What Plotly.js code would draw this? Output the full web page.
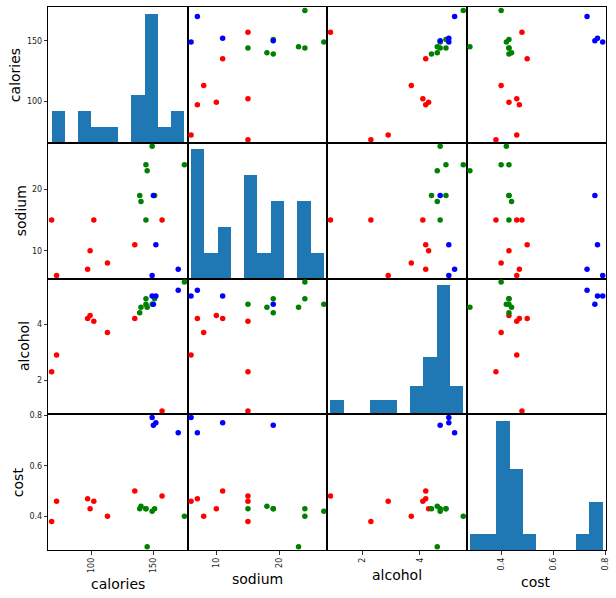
<!DOCTYPE html>
<html><head><meta charset="utf-8">
<script src="https://cdn.plot.ly/plotly-3.0.1.min.js"></script>
<style>html,body{margin:0;padding:0;background:#fff}</style>
</head><body><div id="chart" style="width:616px;height:598px"></div>
<script>
// ---- data ----
const beers = ['Budweiser','Schlitz','Lowenbrau','Kronenbourg','Heineken','Old_Milwaukee','Augsberger',
  'Srohs_Bohemian_Style','Miller_Lite','Budweiser_Light','Coors','Coors_Light','Michelob_Light','Becks',
  'Kirin','Pabst_Extra_Light','Hamms','Heilemans_Old_Style','Olympia_Goled_Light','Schlitz_Light'];
const calories = [144,151,157,170,152,145,175,149,99,113,140,102,135,150,149,68,139,144,72,97];
const sodium   = [15,19,15,7,11,23,24,27,10,8,18,15,11,19,6,15,19,24,6,7];
const alcohol  = [4.7,4.9,0.9,5.2,5.0,4.6,5.5,4.7,4.3,3.7,4.6,4.1,4.2,4.7,5.0,2.3,4.4,4.9,2.9,4.2];
const cost     = [0.43,0.43,0.48,0.73,0.77,0.28,0.40,0.42,0.43,0.40,0.44,0.46,0.50,0.76,0.79,0.38,0.43,0.43,0.46,0.47];
const cluster  = [1,1,0,2,2,1,1,1,0,0,1,0,0,2,2,0,1,1,0,0];
const columns  = ['calories','sodium','alcohol','cost'];

// ---- style ----
const clusterColors = ['red','green','blue'];
const histColor = '#1f77b4';
const tickSteps = [50,10,2,0.2];
const W = 616, H = 598;
const x0 = 48.3, x1 = 606, y0 = 7.3, y1 = 550;
const FONT = 'DejaVu Sans, sans-serif';
// title centre positions (px): y-titles x-centre, x-titles y-centre
const yTitleX = [15, 20.5, 24.5, 18];
const xTitleY = [584, 579, 574.5, 582];

const series = [calories, sodium, alcohol, cost];
const n = series.length;
const nbins = 10;

function bounds(v){
  const mn = Math.min(...v), mx = Math.max(...v);
  const ext = (mx - mn) * 0.05 / 2;
  return [mn - ext, mx + ext];
}
function histogram(v){
  const mn = Math.min(...v), mx = Math.max(...v);
  const size = (mx - mn) / nbins;
  const edges = []; for (let k=0;k<=nbins;k++) edges.push(mn + (mx-mn)*k/nbins);
  const counts = new Array(nbins).fill(0);
  v.forEach(x => {
    let idx = Math.floor((x - mn) / (mx - mn) * nbins);
    if (idx >= nbins) idx = nbins - 1;
    if (idx > 0 && x < edges[idx]) idx--;
    if (idx < nbins-1 && x >= edges[idx+1]) idx++;
    counts[idx]++;
  });
  const centers = counts.map((c,k) => (edges[k]+edges[k+1])/2);
  return {centers, counts, size};
}
function tickList(b, step){
  const out = [];
  const start = Math.ceil(b[0]/step - 1e-9);
  for (let k = start; k*step <= b[1] + 1e-9; k++) out.push(+(k*step).toFixed(6));
  return out;
}

const bnds = series.map(bounds);
const pw = (x1 - x0) / n, ph = (y1 - y0) / n;
const traces = [];
const annotations = [];
const layout = {
  width: W, height: H, margin: {l:0,r:0,t:0,b:0},
  paper_bgcolor: '#fff', plot_bgcolor: '#fff', showlegend: false,
  font: {family: FONT, color: '#000'}, bargap: 0
};

for (let i=0;i<n;i++){
  for (let j=0;j<n;j++){
    const k = i*n + j + 1;
    const xa = 'xaxis' + (k===1?'':k), ya = 'yaxis' + (k===1?'':k);
    const xr = 'x' + (k===1?'':k), yr = 'y' + (k===1?'':k);
    const xd = [(x0 + j*pw)/W, (x0 + (j+1)*pw)/W];
    const yd = [1 - (y0 + (i+1)*ph)/H, 1 - (y0 + i*ph)/H];
    const common = {showgrid:false, zeroline:false, showline:true, mirror:true,
      linecolor:'#000', linewidth:1, automargin:false, fixedrange:true};
    const xaxis = Object.assign({}, common, {domain: xd, anchor: yr, range: bnds[j]});
    const yaxis = Object.assign({}, common, {domain: yd, anchor: xr});
    if (i === j){
      const h = histogram(series[i]);
      const top = Math.max(...h.counts) * 1.05;
      traces.push({type:'bar', x:h.centers, y:h.counts, width:h.size, xaxis:xr, yaxis:yr,
        marker:{color:histColor, line:{width:0}}, hoverinfo:'skip'});
      yaxis.range = [0, top];
      xaxis.range = bnds[i];
    } else {
      traces.push({type:'scatter', mode:'markers', x:series[j], y:series[i], text:beers,
        xaxis:xr, yaxis:yr, cliponaxis:false,
        marker:{size:5.5, color:cluster.map(c=>clusterColors[c]), line:{width:0}}});
      yaxis.range = bnds[i];
    }
    if (j === 0){
      const tv = tickList(bnds[i], tickSteps[i]);
      let vals = tv;
      if (i === j){
        const top = yaxis.range[1];
        vals = tv.map(v => (v - bnds[i][0]) / (bnds[i][1]-bnds[i][0]) * top);
      }
      Object.assign(yaxis, {showticklabels:true, ticks:'outside', ticklen:3.5, tickwidth:0.8, tickcolor:'#000',
        tickmode:'array', tickvals: vals, ticktext: tv.map(String),
        tickfont:{family:FONT, size:8, color:'#222'}});
      annotations.push({text: columns[i], xref:'paper', yref:'paper', showarrow:false,
        x: yTitleX[i]/W, y: 1 - (y0 + (i+0.5)*ph)/H, xanchor:'center', yanchor:'middle',
        textangle:-90, font:{family:FONT, size:14, color:'#000'}});
    } else {
      Object.assign(yaxis, {showticklabels:false, ticks:''});
    }
    if (i === n-1){
      const tv = tickList(bnds[j], tickSteps[j]);
      Object.assign(xaxis, {showticklabels:true, ticks:'outside', ticklen:3.5, tickwidth:0.8, tickcolor:'#000',
        tickmode:'array', tickvals: tv, ticktext: tv.map(String), tickangle:-90,
        tickfont:{family:FONT, size:8, color:'#222'}});
      annotations.push({text: columns[j], xref:'paper', yref:'paper', showarrow:false,
        x: (x0 + (j+0.5)*pw)/W, y: 1 - xTitleY[j]/H, xanchor:'center', yanchor:'middle',
        font:{family:FONT, size:14, color:'#000'}});
    } else {
      Object.assign(xaxis, {showticklabels:false, ticks:''});
    }
    layout[xa] = xaxis; layout[ya] = yaxis;
  }
}
layout.annotations = annotations;
Plotly.newPlot('chart', traces, layout, {staticPlot:true, displayModeBar:false});
</script></body></html>
